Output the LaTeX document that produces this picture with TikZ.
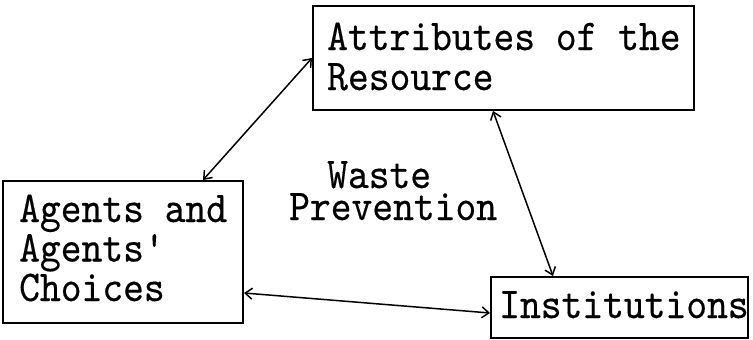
\documentclass[tikz,border=0pt]{standalone}
\usepackage{fontspec}
\usetikzlibrary{arrows.meta}
\newfontfamily\diagfont{lmmono10-regular}[Extension=.otf, FakeStretch=0.9, FakeBold=0.35]
\begin{document}
\begin{tikzpicture}[x=1pt,y=1pt,
  box/.style={draw=black, line width=2pt, rectangle, inner sep=0pt},
  txt/.style={anchor=base west, inner sep=0pt, align=left},
  big/.style={font=\diagfont\fontsize{44}{#1}\selectfont},
  link/.style={draw=black, line width=1.5pt,
    {Straight Barb[length=7pt,width=11pt,line width=1.5pt]}-{Straight Barb[length=7pt,width=11pt,line width=1.5pt]}}]
\useasboundingbox[fill=white] (0,0) rectangle (753,-340);

% the three boxes
\node[box, minimum width=381pt, minimum height=104pt] (res)    at (503.5,-58)  {};
\node[box, minimum width=240pt, minimum height=142pt] (agents) at (123,-252)   {};
\node[box, minimum width=257pt, minimum height=61pt]  (inst)   at (619.5,-307.5) {};

% box texts (anchored at the last baseline)
\node[txt, big=40] (restext) at (327,-90)  {Attributes of the\\Resource};
\node[txt, big=39.5] (agtext) at (19,-301) {Agents and\\Agents'\\Choices};
\node[txt, big=44] (instext) at (499,-318) {Institutions};

% free label in the middle
\node[txt, big=32] (waste) at (289,-220) {\hspace*{38pt}Waste\\Prevention};

% two-way links
\draw[link] (res.west) -- ([xshift=80pt]agents.north);
\draw[link] ([xshift=-10.5pt]res.south) -- ([xshift=-66.5pt]inst.north);
\draw[link] ([yshift=-41pt]agents.east) -- ([yshift=-5.5pt]inst.west);
\end{tikzpicture}
\end{document}
